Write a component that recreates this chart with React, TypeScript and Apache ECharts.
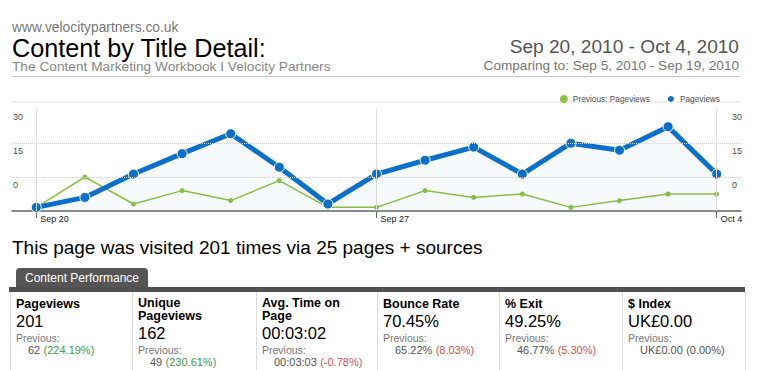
import React, { useEffect, useRef } from "react";
import * as echarts from "echarts";

const categories = ["Sep 20", "Sep 21", "Sep 22", "Sep 23", "Sep 24", "Sep 25", "Sep 26", "Sep 27", "Sep 28", "Sep 29", "Sep 30", "Oct 1", "Oct 2", "Oct 3", "Oct 4"];
const pageviews = [-13.4, -9, 1.3, 10.3, 19.1, 4.3, -11.9, 1.3, 7.4, 13.2, 1.3, 14.9, 11.8, 22.2, 1.3];
const previousPageviews = [-13.4, 0, -11.9, -6, -10.4, -1.6, -13.4, -13.4, -6, -9, -7.5, -13.4, -10.4, -7.5, -7.5];
const yTicks = [30, 15, 0];

const metricNames = ["Pageviews", "Unique\nPageviews", "Avg. Time on\nPage", "Bounce Rate", "% Exit", "$ Index"];
const metricValues = ["201", "162", "00:03:02", "70.45%", "49.25%", "UK£0.00"];
const previousValues = ["62", "49", "00:03:03", "65.22%", "46.77%", "UK£0.00"];
const changes = ["224.19%", "230.61%", "-0.78%", "8.03%", "5.30%", "0.00%"];
const changeTones = ["good", "good", "bad", "bad", "bad", "flat"];

const FONT = "'Liberation Sans', Arial, Helvetica, sans-serif";
const BLUE = "#0b6fcc";
const GREEN = "#8cc23f";

export default function App() {
  const ref = useRef<HTMLDivElement>(null);

  useEffect(() => {
    if (!ref.current) return;
    const chart = echarts.init(ref.current, undefined, { renderer: "svg" });

    const boxEdges = [10, 132, 256, 377, 499, 622, 745];
    const graphics: any[] = [];

    // Header
    graphics.push(
      { type: "text", x: 12, y: 27, style: { text: "www.velocitypartners.co.uk", fill: "#777", font: `13.8px ${FONT}`, textVerticalAlign: "middle" } },
      { type: "text", x: 12, y: 48, scaleX: 0.97, style: { text: "Content by Title Detail:", fill: "#000", font: `26px ${FONT}`, textVerticalAlign: "middle" } },
      { type: "text", x: 12, y: 66, style: { text: "The Content Marketing Workbook I Velocity Partners", fill: "#888", font: `13.7px ${FONT}`, textVerticalAlign: "middle" } },
      { type: "text", x: 739, y: 46, style: { text: "Sep 20, 2010 - Oct 4, 2010", fill: "#555", font: `19.1px ${FONT}`, textAlign: "right", textVerticalAlign: "middle" } },
      { type: "text", x: 739, y: 65.5, style: { text: "Comparing to: Sep 5, 2010 - Sep 19, 2010", fill: "#777", font: `13.6px ${FONT}`, textAlign: "right", textVerticalAlign: "middle" } },
      { type: "line", shape: { x1: 12, y1: 76.5, x2: 740, y2: 76.5 }, style: { stroke: "#c8c8c8", lineWidth: 1 } },
      { type: "line", shape: { x1: 12, y1: 102, x2: 740, y2: 102 }, style: { stroke: "#e8e8e8", lineWidth: 1.5 } }
    );

    // Summary sentence
    graphics.push({ type: "text", x: 12, y: 247, style: { text: "This page was visited 201 times via 25 pages + sources", fill: "#000", font: `19px ${FONT}`, textVerticalAlign: "middle" } });

    // Tab and bar
    graphics.push(
      { type: "rect", shape: { x: 16, y: 268, width: 132, height: 21, r: [4, 4, 0, 0] }, style: { fill: "#555" } },
      { type: "text", x: 82, y: 278, style: { text: "Content Performance", fill: "#fff", font: `12px ${FONT}`, textAlign: "center", textVerticalAlign: "middle" } },
      { type: "rect", shape: { x: 9, y: 287, width: 736, height: 5 }, style: { fill: "#505050" } }
    );

    boxEdges.forEach((x) => {
      graphics.push({ type: "line", shape: { x1: x + 0.5, y1: 292, x2: x + 0.5, y2: 370 }, style: { stroke: "#dcdcdc", lineWidth: 1 } });
    });

    metricNames.forEach((name, i) => {
      const x0 = boxEdges[i] + 6;
      const twoLine = name.includes("\n");
      const off = twoLine ? 12 : 0;
      const toneColor = changeTones[i] === "good" ? "#3f9a43" : changeTones[i] === "bad" ? "#d9534f" : "#555";
      graphics.push(
        { type: "text", x: x0, y: twoLine ? 309.5 : 304, style: { text: name, fill: "#000", font: `bold 12.5px ${FONT}`, lineHeight: 13, textVerticalAlign: "middle" } },
        { type: "text", x: x0, y: 321 + off, style: { text: metricValues[i], fill: "#000", font: `16.5px ${FONT}`, textVerticalAlign: "middle" } },
        { type: "text", x: x0, y: 338 + off, style: { text: "Previous:", fill: "#777", font: `10.5px ${FONT}`, textVerticalAlign: "middle" } },
        {
          type: "text",
          x: x0 + 12,
          y: 350 + off,
          style: {
            text: `{p|${previousValues[i]}} {c|(${changes[i]})}`,
            textVerticalAlign: "middle",
            rich: {
              p: { fill: "#555", font: `11px ${FONT}` },
              c: { fill: toneColor, font: `11px ${FONT}` },
            },
          },
        }
      );
    });

    const yAxisBase = {
      type: "value",
      min: -15,
      max: 30,
      interval: 15,
      axisLine: { show: false },
      axisTick: { show: false },
      splitLine: { show: false },
    };

    chart.setOption({
      animation: false,
      textStyle: { fontFamily: FONT },
      legend: {
        right: 34,
        top: 89,
        itemWidth: 8,
        itemHeight: 8,
        itemGap: 16,
        icon: "circle",
        textStyle: { fontSize: 8.3, color: "#555" },
        data: ["Previous: Pageviews", "Pageviews"],
      },
      grid: { left: 12, right: 18, top: 109, bottom: 159 },
      xAxis: {
        type: "category",
        data: categories,
        boundaryGap: true,
        axisLine: { onZero: false, lineStyle: { color: "#666", width: 1.5 } },
        axisTick: { show: true, alignWithLabel: true, interval: (i: number) => i % 7 === 0, length: 7, lineStyle: { color: "#666" } },
        axisLabel: { interval: (i: number) => i % 7 === 0, align: "left", padding: [0, 0, 0, 4], margin: 3, fontSize: 9, color: "#222" },
        splitLine: { show: false },
      },
      yAxis: [
        {
          ...yAxisBase,
          position: "left",
          axisLabel: { inside: true, margin: 1, align: "left", verticalAlign: "top", padding: [3, 0, 0, 0], fontSize: 9, color: "#555", formatter: (v: number) => (yTicks.includes(v) ? String(v) : "") },
        },
        {
          ...yAxisBase,
          position: "right",
          axisLabel: { inside: true, margin: 9, align: "left", verticalAlign: "top", padding: [3, 0, 0, 0], fontSize: 9, color: "#555", formatter: (v: number) => (yTicks.includes(v) ? String(v) : "") },
        },
      ],
      series: [
        {
          name: "Previous: Pageviews",
          type: "line",
          data: previousPageviews,
          yAxisIndex: 0,
          symbol: "circle",
          symbolSize: 5,
          lineStyle: { color: GREEN, width: 1.5 },
          itemStyle: { color: GREEN },
          z: 3,
          markLine: {
            silent: true,
            symbol: "none",
            label: { show: false },
            lineStyle: { color: "#dcdcdc", type: "solid", width: 1 },
            data: [{ xAxis: 0 }, { xAxis: 7 }, { xAxis: 14 }],
          },
        },
        {
          name: "Pageviews",
          type: "line",
          data: pageviews,
          yAxisIndex: 0,
          symbol: "circle",
          symbolSize: 10,
          lineStyle: { color: BLUE, width: 5 },
          itemStyle: { color: BLUE, borderColor: "#fff", borderWidth: 1 },
          areaStyle: { color: "rgba(11,111,204,0.05)", origin: "start" },
          z: 4,
          markLine: {
            silent: true,
            symbol: "none",
            label: { show: false },
            lineStyle: { color: "#d4d4d4", type: "dotted", width: 1 },
            data: [{ yAxis: 0 }, { yAxis: 15 }],
          },
        },
      ],
      graphic: graphics,
    });

    return () => chart.dispose();
  }, []);

  return <div ref={ref} style={{ position: "absolute", left: 0, top: 0, width: 759, height: 370, background: "#fff" }} />;
}
